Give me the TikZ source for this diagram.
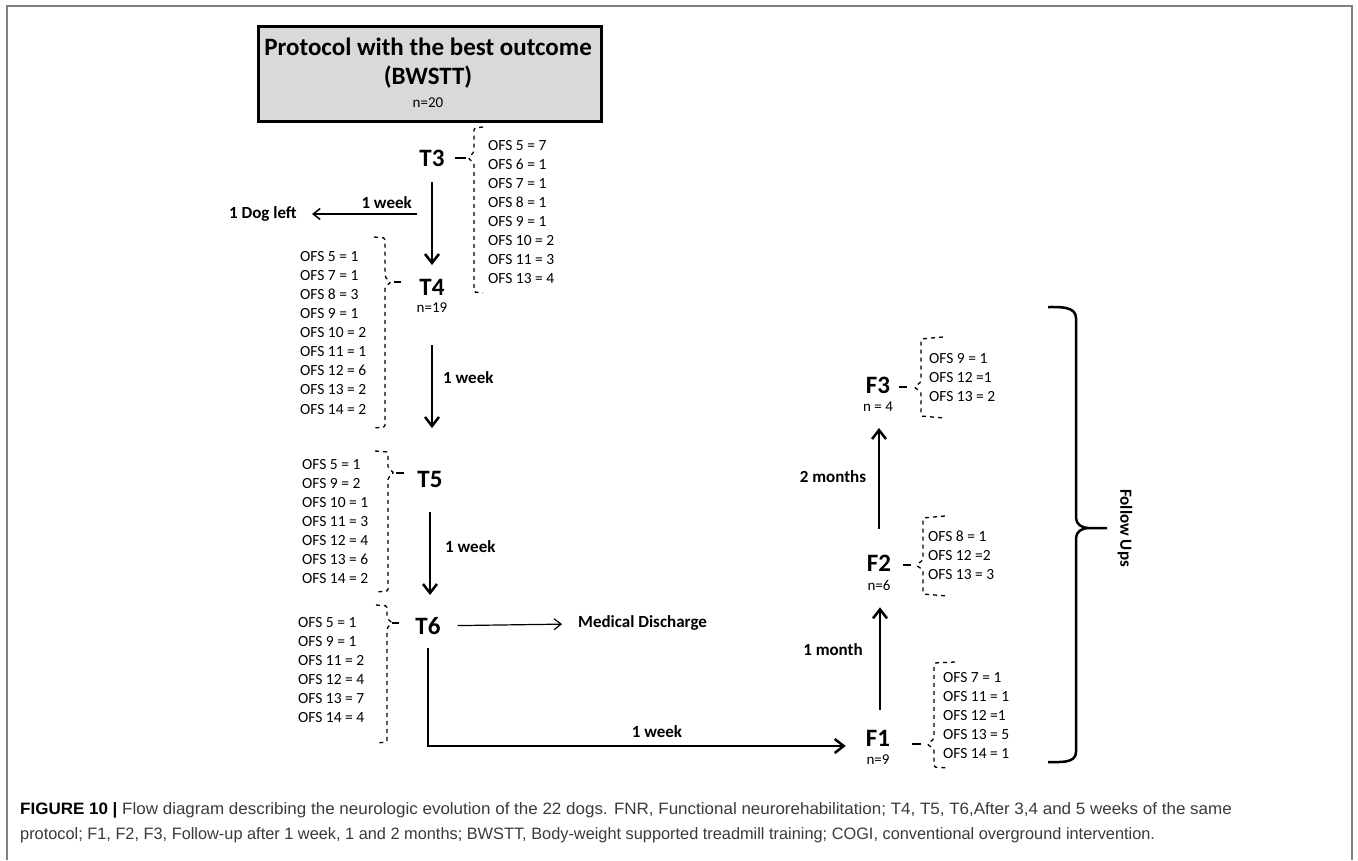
\documentclass[tikz,border=0pt]{standalone}
\usepackage{fontspec}
\setmainfont{Carlito}
\newfontfamily\capfont{Liberation Sans}
\usetikzlibrary{arrows.meta}
\definecolor{boxgray}{HTML}{D9D9D9}
\definecolor{framegray}{HTML}{808080}
\definecolor{captext}{HTML}{3A3A3A}
\begin{document}
\begin{tikzpicture}[x=1pt,y=-1pt,
  lbl/.style={font=\fontsize{25}{28}\selectfont\bfseries, inner sep=0},
  small/.style={font=\fontsize{15}{18}\selectfont, inner sep=0},
  bl/.style={font=\fontsize{17}{20}\selectfont\bfseries, inner sep=0},
  lst/.style={font=\fontsize{15.5}{19.1}\selectfont, inner sep=0, align=left, anchor=north west},
  captionline/.style={anchor=base west, inner sep=0, text=captext, font=\capfont\fontsize{16.5}{19}\selectfont},
  thickarr/.style={line width=2.5pt, -{Straight Barb[length=9pt,width=14pt,line width=2.5pt]}},
  thinarr/.style={line width=1.5pt, -{Straight Barb[length=7pt,width=11pt,line width=1.5pt]}},
  medarr/.style={line width=1.2pt, -{Straight Barb[length=7pt,width=11pt,line width=1.2pt]}},
  brk/.style={line width=1.3pt, dash pattern=on 4pt off 4pt, rounded corners=1.5pt},
  brkdash/.style={line width=1.3pt},
  brace/.style={line width=2.5pt}
]
\useasboundingbox (0,0) rectangle (1358,860);
% frame
\draw[framegray, line width=1.5pt] (7,860) -- (7,6) -- (1352,6) -- (1352,860);

% title box
\node[draw, line width=2.5pt, fill=boxgray, minimum width=343pt, minimum height=95pt, anchor=north west, inner sep=0] (title) at (257,25) {};
\node[lbl] (tl1) at (428,47) {Protocol with the best outcome};
\node[lbl] (tl2) at (428,77) {(BWSTT)};
\node[small] (tl3) at (428,103) {n=20};

% T nodes
\node[lbl] (T3) at (432,158) {T3};
\node[lbl] (T4) at (432,287) {T4};
\node[small] (n4) at (432,308) {n=19};
\node[lbl] (T5) at (430,479) {T5};
\node[lbl] (T6) at (428,626) {T6};

% labels
\node[bl, anchor=east] (w1) at (412,203) {1 week};
\node[bl, anchor=east] (dog) at (297,214) {1 Dog left};
\coordinate (dogstart) at (417,214);
\node[bl, anchor=west] (w2) at (443,378) {1 week};
\node[bl, anchor=west] (w3) at (445,547) {1 week};
\node[bl, anchor=west] (med) at (578,623) {Medical Discharge};
\node[bl] (w4) at (657,732) {1 week};

% F nodes
\node[lbl] (F1) at (878,738) {F1};
\node[small] (nF1) at (878,760) {n=9};
\node[lbl] (F2) at (879,563) {F2};
\node[small] (nF2) at (879,585) {n=6};
\node[lbl] (F3) at (878,385) {F3};
\node[small] (nF3) at (878,407) {n = 4};
\node[bl] (m1) at (833,650) {1 month};
\node[bl] (m2) at (833,477) {2 months};
\node[bl, rotate=-90] (fu) at (1125,528) {Follow Ups};

% arrows
\draw[thickarr, shorten <=16pt, shorten >=22pt] (T3) -- (T3 |- T4);
\draw[thinarr, shorten >=15pt] (dogstart) -- (dog);
\draw[thickarr, shorten <=32pt, shorten >=51pt] (n4) -- (n4 |- T5);
\draw[thickarr, shorten <=25pt, shorten >=31pt] (T5) -- (T5 |- T6);
\draw[medarr, shorten <=17pt, shorten >=16pt] (T6) -- (med);
\draw[thickarr, shorten <=13pt, shorten >=20pt] (T6) |- ([yshift=-8pt]F1.west);
\draw[thickarr, shorten <=20pt, shorten >=17pt] (F1.north -| 880,0) -- (nF2.south -| 880,0);
\draw[thickarr, shorten <=26pt, shorten >=16pt] (F2.north -| 879,0) -- (nF3.south -| 879,0);

% lists
\node[lst] (L3) at (488,140) {OFS 5 = 7\\OFS 6 = 1\\OFS 7 = 1\\OFS 8 = 1\\OFS 9 = 1\\OFS 10 = 2\\OFS 11 = 3\\OFS 13 = 4};
\node[lst] (L4) at (300,251) {OFS 5 = 1\\OFS 7 = 1\\OFS 8 = 3\\OFS 9 = 1\\OFS 10 = 2\\OFS 11 = 1\\OFS 12 = 6\\OFS 13 = 2\\OFS 14 = 2};
\node[lst] (L5) at (302,459) {OFS 5 = 1\\OFS 9 = 2\\OFS 10 = 1\\OFS 11 = 3\\OFS 12 = 4\\OFS 13 = 6\\OFS 14 = 2};
\node[lst] (L6) at (298,617) {OFS 5 = 1\\OFS 9 = 1\\OFS 11 = 2\\OFS 12 = 4\\OFS 13 = 7\\OFS 14 = 4};
\node[lst] (LF1) at (943,672) {OFS 7 = 1\\OFS 11 = 1\\OFS 12 =1\\OFS 13 = 5\\OFS 14 = 1};
\node[lst] (LF2) at (928,531) {OFS 8 = 1\\OFS 12 =2\\OFS 13 = 3};
\node[lst] (LF3) at (929,353) {OFS 9 = 1\\OFS 12 =1\\OFS 13 = 2};

% brackets
\draw[brk] (483,127) -- (474,128) -- (474,152) -- (468,158) -- (474,163) -- (474,292) -- (483,293);
\draw[brkdash] (455,158) -- (466,158);
\draw[brk] (374,237) -- (385,238) -- (385,277) -- (391,282) -- (385,287) -- (385,427) -- (374,428);
\draw[brkdash] (394,282) -- (401,282);
\draw[brk] (375,451) -- (388,452) -- (388,468) -- (394,473) -- (388,478) -- (388,591) -- (376,592);
\draw[brkdash] (396,473) -- (404,473);
\draw[brk] (376,605) -- (387,606) -- (387,618) -- (392,623) -- (387,628) -- (387,742) -- (377,743);
\draw[brkdash] (392,623) -- (399,623);
\draw[brk] (955,662) -- (934,663) -- (934,739) -- (927,744) -- (934,749) -- (934,767) -- (948,768);
\draw[brkdash] (912,744) -- (921,744);
\draw[brk] (945,516) -- (923,518) -- (923,560) -- (916,565) -- (923,570) -- (923,594) -- (947,596);
\draw[brkdash] (903,565) -- (911,565);
\draw[brk] (943,337) -- (921,339) -- (921,382) -- (914,387) -- (921,392) -- (921,416) -- (944,418);
\draw[brkdash] (899,387) -- (907,387);

% follow ups brace
\draw[brace] (1048,307) to[out=0,in=90] (1076,318) -- (1076,518) to[out=-90,in=180] (1088,528) -- (1107,528);
\draw[brace] (1088,528) to[out=180,in=90] (1076,538) -- (1076,752) to[out=-90,in=0] (1048,762);

% caption
\node[captionline] (cap1) at (20,814) {\scalebox{1.03}[1]{\textcolor{black}{\bfseries FIGURE 10 |} Flow diagram describing the neurologic evolution of the 22 dogs. FNR, Functional neurorehabilitation; T4, T5, T6,After 3,4 and 5 weeks of the same}};
\node[captionline] (cap2) at (20,839) {\scalebox{0.99}[1]{protocol; F1, F2, F3, Follow-up after 1 week, 1 and 2 months; BWSTT, Body-weight supported treadmill training; COGI, conventional overground intervention.}};
\end{tikzpicture}
\end{document}
